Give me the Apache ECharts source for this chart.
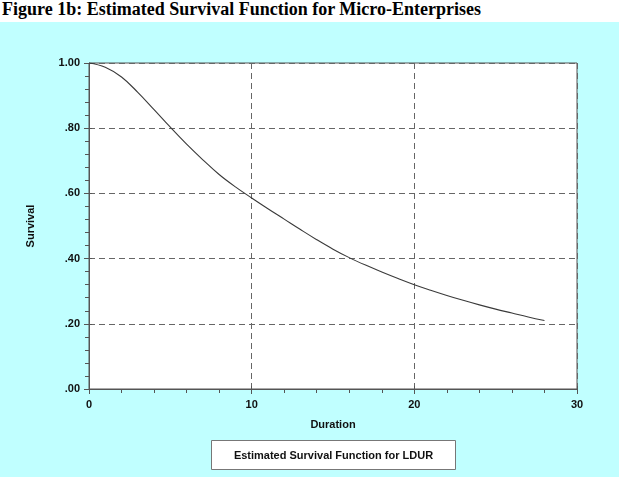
<!DOCTYPE html>
<html lang="en">
<head>
    <meta charset="UTF-8">
    <title>Estimated Survival Function for Micro-Enterprises</title>
    <script src="https://cdn.jsdelivr.net/npm/echarts@6/dist/echarts.min.js"></script>
    <style>
        html, body { margin: 0; padding: 0; background: #fff; }
        #title {
            height: 22px;
            font-family: "Liberation Serif", "Times New Roman", serif;
            font-weight: bold;
            font-size: 18px;
            line-height: 19px;
            padding-left: 2px;
            white-space: nowrap;
        }
        #chart { width: 619px; height: 455px; background: #c0ffff; }
    </style>
</head>
<body>
    <div id="title">Figure 1b: Estimated Survival Function for Micro-Enterprises</div>
    <div id="chart"></div>
    <script>
        // durations (years) and estimated survival
        var duration = [0, 1, 2, 3, 4, 5, 6, 7, 8, 9, 10, 11, 12, 13, 14, 15, 16, 17, 18, 19, 20, 21, 22, 23, 24, 25, 26, 27, 28]
        var survival = [1.000, 0.987, 0.957, 0.910, 0.857, 0.803, 0.751, 0.703, 0.658, 0.620, 0.586, 0.553, 0.521, 0.489,
            0.458, 0.429, 0.403, 0.380, 0.359, 0.339, 0.320, 0.303, 0.287, 0.272, 0.258, 0.245, 0.233, 0.221, 0.210]
        var yTickLabels = ['.00', '.20', '.40', '.60', '.80', '1.00']
        var xTickLabels = ['0', '10', '20', '30']
        var legendText = 'Estimated Survival Function for LDUR'

        var points = []
        for (var i = 0; i < duration.length; i++) {
            points.push([duration[i], survival[i]])
        }

        var axisColor = '#555'
        var labelFont = { color: '#111', fontFamily: 'Liberation Sans, Arial', fontWeight: 'bold', fontSize: 11 }
        var dashed = { color: '#666', width: 1, type: [6, 4] }

        // second copy of each axis only draws the inner half of the major ticks
        var innerTicks = {
            axisLine: { show: false },
            axisTick: { show: true, inside: true, length: 3, lineStyle: { color: axisColor } },
            axisLabel: { show: false },
            splitLine: { show: false }
        }

        var chart = echarts.init(document.getElementById('chart'), null, { renderer: 'canvas' })
        chart.setOption({
            animation: false,
            backgroundColor: '#c0ffff',
            grid: {
                left: 89, right: 42, top: 41, bottom: 88,
                show: true, backgroundColor: '#fff', borderColor: axisColor, borderWidth: 1
            },
            xAxis: [{
                type: 'value', min: 0, max: 30, interval: 10,
                name: 'Duration', nameLocation: 'middle', nameGap: 30,
                nameTextStyle: labelFont,
                axisLine: { lineStyle: { color: axisColor } },
                axisTick: { length: 5, lineStyle: { color: axisColor } },
                minorTick: { show: true, splitNumber: 5, length: 4, lineStyle: { color: axisColor } },
                axisLabel: Object.assign({ margin: 10, formatter: function (v) { return xTickLabels[v / 10] } }, labelFont),
                splitLine: { show: true, lineStyle: dashed }
            }, Object.assign({ type: 'value', min: 0, max: 30, interval: 10, position: 'bottom' }, innerTicks)],
            yAxis: [{
                type: 'value', min: 0, max: 1, interval: 0.2,
                name: 'Survival', nameLocation: 'middle', nameGap: 53, nameRotate: 90,
                nameTextStyle: labelFont,
                axisLine: { show: true, lineStyle: { color: axisColor } },
                axisTick: { show: true, length: 5, lineStyle: { color: axisColor } },
                minorTick: { show: true, splitNumber: 5, length: 4, lineStyle: { color: axisColor } },
                axisLabel: Object.assign({ margin: 9, formatter: function (v) { return yTickLabels[Math.round(v / 0.2)] } }, labelFont),
                splitLine: { show: true, lineStyle: dashed }
            }, Object.assign({ type: 'value', min: 0, max: 1, interval: 0.2, position: 'left' }, innerTicks)],
            series: [{
                type: 'line',
                data: points,
                smooth: 0.4,
                showSymbol: false,
                lineStyle: { color: '#3a3a3a', width: 1.1 }
            }],
            graphic: [{
                type: 'group',
                left: 211, top: 418,
                children: [{
                    type: 'rect',
                    shape: { x: 0, y: 0, width: 244, height: 29 },
                    style: { fill: '#fff', stroke: '#777', lineWidth: 1 }
                }, {
                    type: 'text',
                    x: 122, y: 15,
                    style: {
                        text: legendText, fill: '#111', align: 'center', verticalAlign: 'middle',
                        font: 'bold 11px "Liberation Sans", Arial'
                    }
                }]
            }]
        })
    </script>
</body>
</html>
